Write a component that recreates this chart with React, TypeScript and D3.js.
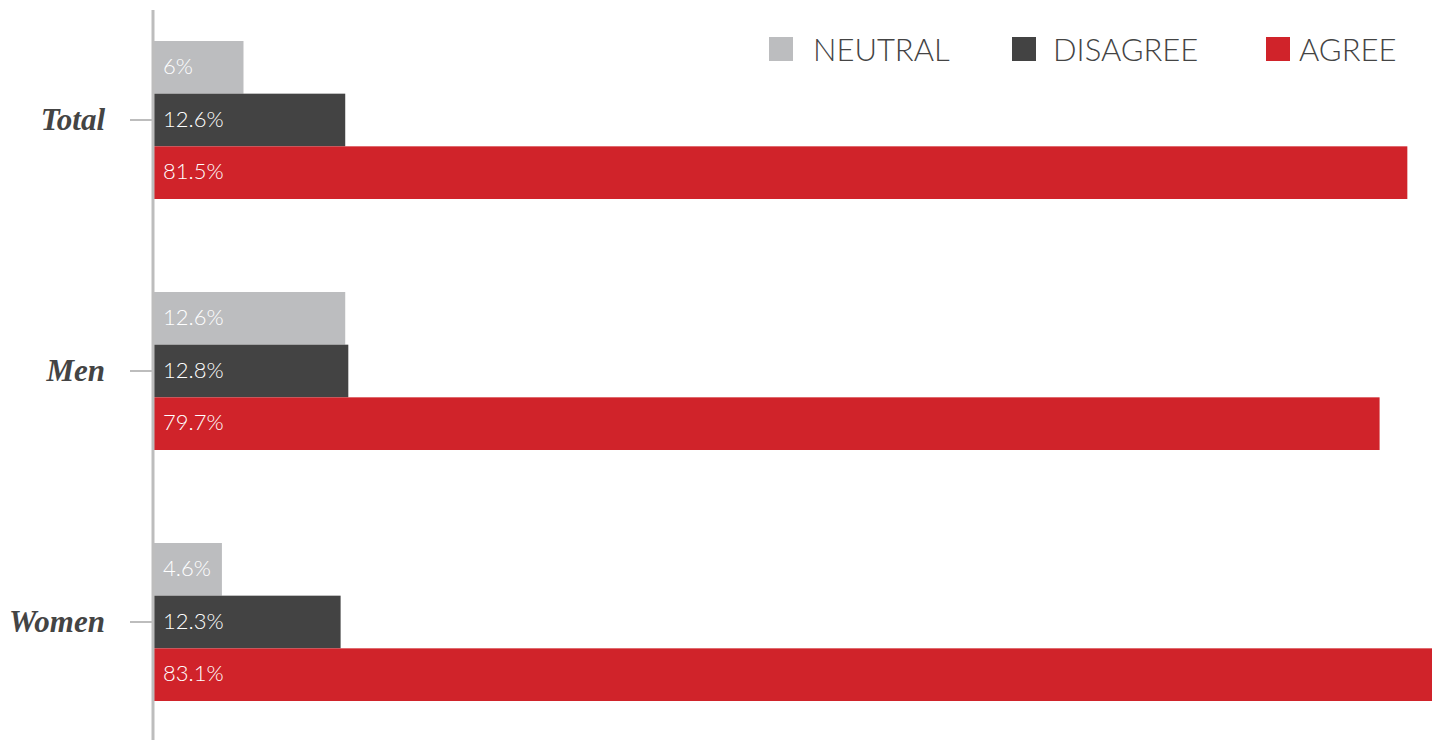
import * as d3 from "d3";
import React from "react";

const categories = ["Total", "Men", "Women"];
const seriesNames = ["NEUTRAL", "DISAGREE", "AGREE"];
const neutral = [6, 12.6, 4.6];
const disagree = [12.6, 12.8, 12.3];
const agree = [81.5, 79.7, 83.1];
const valueLabels = [
  ["6%", "12.6%", "81.5%"],
  ["12.6%", "12.8%", "79.7%"],
  ["4.6%", "12.3%", "83.1%"],
];

const colors = ["#bcbdbf", "#434343", "#d0232a"];

const width = 1434;
const height = 740;
const axisX = 153;

export default function App() {
  const values = [neutral, disagree, agree];

  const x = d3.scaleLinear().domain([0, d3.max(agree) as number]).range([151, 1432]);

  const y = d3
    .scaleBand()
    .domain(categories)
    .range([41, 701])
    .paddingInner(93 / 251)
    .paddingOuter(0);

  const inner = d3.scaleBand().domain(seriesNames).range([0, y.bandwidth()]).padding(0);

  // legend positions
  const legendX = [769, 1012, 1266];

  return (
    <svg
      width={width}
      height={height}
      style={{ position: "absolute", left: 0, top: 0, display: "block", background: "#fff" }}
    >
      {/* bars */}
      {categories.map((cat, ci) => (
        <g key={cat} transform={`translate(0,${y(cat)})`}>
          {seriesNames.map((s, si) => {
            const v = values[si][ci];
            const y0 = inner(s) as number;
            return (
              <g key={s}>
                <rect
                  x={axisX + 1}
                  y={y0}
                  width={x(v) - axisX - 1}
                  height={inner.bandwidth()}
                  fill={colors[si]}
                />
                <text
                  x={163}
                  y={y0 + inner.bandwidth() / 2}
                  dy="0.3em"
                  fill="#fff"
                  fontFamily="Lato, 'Open Sans', sans-serif"
                  fontWeight={300}
                  fontSize={22}
                >
                  {valueLabels[ci][si]}
                </text>
              </g>
            );
          })}
        </g>
      ))}

      {/* axis */}
      <line x1={axisX} x2={axisX} y1={10} y2={height} stroke="#bdbdbd" strokeWidth={3} />
      {categories.map((cat) => {
        const cy = (y(cat) as number) + y.bandwidth() / 2;
        return (
          <g key={cat}>
            <line x1={130} x2={axisX} y1={cy} y2={cy} stroke="#bdbdbd" strokeWidth={2} />
            <text
              x={105}
              y={cy}
              dy="0.33em"
              textAnchor="end"
              fontFamily="'Liberation Serif', 'DejaVu Serif', serif"
              fontStyle="italic"
              fontWeight="bold"
              fontSize={31}
              fill="#444"
            >
              {cat}
            </text>
          </g>
        );
      })}

      {/* legend */}
      {seriesNames.map((s, i) => (
        <g key={s} transform={`translate(${legendX[i]},37)`}>
          <rect width={24} height={24} fill={colors[i]} />
          <text
            x={i === 2 ? 33 : i === 1 ? 41 : 44}
            y={24}
            fontFamily="Lato, 'Open Sans', sans-serif"
            fontWeight={300}
            fontSize={31}
            fill="#444"
          >
            {s}
          </text>
        </g>
      ))}
    </svg>
  );
}
